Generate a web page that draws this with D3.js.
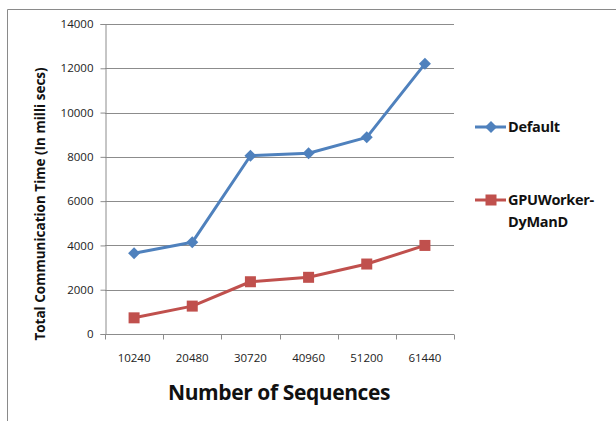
<!DOCTYPE html>
<html>
<head>
<meta charset="utf-8">
<script src="https://cdn.jsdelivr.net/npm/d3@7"></script>
<style>
  html, body { margin: 0; padding: 0; background: #fff; }
  svg { display: block; }
  text { font-family: "Open Sans", "Noto Sans", sans-serif; }
</style>
</head>
<body>
<svg id="chart" width="616" height="421"></svg>
<script>
// Number of sequences processed
const categories = ["10240", "20480", "30720", "40960", "51200", "61440"];
// Total communication time in milliseconds
const defaultTimes = [3650, 4140, 8050, 8160, 8880, 12200];
const dymandTimes = [730, 1260, 2360, 2560, 3160, 4000];
const yTicks = [0, 2000, 4000, 6000, 8000, 10000, 12000, 14000];
const seriesNames = ["Default", "GPUWorker-DyManD"];

const svg = d3.select("#chart");
const margin = { left: 105, right: 162, top: 24, bottom: 87 };
const W = 616, H = 421;
const plotW = W - margin.left - margin.right;
const plotH = H - margin.top - margin.bottom;

const blue = "#4F81BD", red = "#C0504D", grid = "#8c8c8c";

// outer frame
svg.append("path")
  .attr("d", "M7.5,421 V9.5 H616")
  .attr("fill", "none").attr("stroke", "#8a8a8a").attr("stroke-width", 1);

const g = svg.append("g").attr("transform", `translate(${margin.left},${margin.top})`);

const x = d3.scaleBand().domain(categories).range([0, plotW]);
const y = d3.scaleLinear().domain([0, 14000]).range([plotH, 0]);

// horizontal gridlines
g.append("g").selectAll("line").data(yTicks.filter(d => d > 0)).join("line")
  .attr("x1", 0).attr("x2", plotW)
  .attr("y1", d => Math.round(y(d)) + 0.5).attr("y2", d => Math.round(y(d)) + 0.5)
  .attr("stroke", grid).attr("stroke-width", 1);

// y axis
const yAxis = g.append("g")
  .attr("transform", "translate(0.5,0)")
  .call(d3.axisLeft(y).tickValues(yTicks).tickSize(5).tickPadding(7).tickFormat(d3.format("d")));
yAxis.select(".domain").attr("stroke", grid);
yAxis.selectAll(".tick line").attr("stroke", grid);
yAxis.selectAll(".tick text").attr("font-size", 11.5).attr("fill", "#222")
  .style("font-family", "'Open Sans', sans-serif");

// x axis with ticks on the band edges
const xAxis = g.append("g").attr("transform", `translate(0,${Math.round(plotH) + 0.5})`);
xAxis.append("line").attr("x1", 0).attr("x2", plotW).attr("stroke", grid);
const edges = categories.map(c => x(c)).concat([plotW]);
xAxis.selectAll("line.edge").data(edges).join("line").attr("class", "edge")
  .attr("x1", d => Math.round(d) + 0.5).attr("x2", d => Math.round(d) + 0.5)
  .attr("y1", 0).attr("y2", 5).attr("stroke", grid);
xAxis.selectAll("text").data(categories).join("text")
  .attr("x", d => x(d) + x.bandwidth() / 2).attr("y", 27)
  .attr("text-anchor", "middle").attr("font-size", 11.5).attr("fill", "#222")
  .text(d => d);

// axis titles
svg.append("text")
  .attr("transform", "translate(45,204) rotate(-90)")
  .attr("text-anchor", "middle").attr("font-size", 13.5).attr("font-weight", "bold")
  .attr("fill", "#111")
  .text("Total Communication Time (In milli secs)");
svg.append("text")
  .attr("x", 279).attr("y", 400)
  .attr("text-anchor", "middle").attr("font-size", 21).attr("font-weight", "bold")
  .attr("fill", "#111").attr("letter-spacing", -0.4)
  .text("Number of Sequences");

// series lines and markers
const cx = c => x(c) + x.bandwidth() / 2;
const line = d3.line().x((d, i) => cx(categories[i])).y(d => y(d));

g.append("path").datum(defaultTimes).attr("d", line)
  .attr("fill", "none").attr("stroke", blue).attr("stroke-width", 3).attr("stroke-linejoin", "round");
g.append("path").datum(dymandTimes).attr("d", line)
  .attr("fill", "none").attr("stroke", red).attr("stroke-width", 3).attr("stroke-linejoin", "round");

// square diamond marker, 12px across
const diamond = "M0,-6L6,0L0,6L-6,0Z";
g.selectAll("path.dm").data(defaultTimes).join("path").attr("class", "dm")
  .attr("d", diamond)
  .attr("transform", (d, i) => `translate(${cx(categories[i])},${y(d)})`)
  .attr("fill", blue);
g.selectAll("rect.sq").data(dymandTimes).join("rect").attr("class", "sq")
  .attr("x", (d, i) => cx(categories[i]) - 5.5).attr("y", d => y(d) - 5.5)
  .attr("width", 11).attr("height", 11).attr("fill", red);

// legend
const legend = svg.append("g");
const items = [
  { name: seriesNames[0], color: blue, y: 127, lines: ["Default"] },
  { name: seriesNames[1], color: red, y: 200, lines: ["GPUWorker-", "DyManD"] }
];
items.forEach((it, k) => {
  legend.append("line").attr("x1", 475).attr("x2", 506).attr("y1", it.y).attr("y2", it.y)
    .attr("stroke", it.color).attr("stroke-width", 3);
  if (k === 0) {
    legend.append("path").attr("d", diamond).attr("transform", `translate(491,${it.y})`).attr("fill", it.color);
  } else {
    legend.append("rect").attr("x", 485.5).attr("y", it.y - 5.5).attr("width", 11).attr("height", 11).attr("fill", it.color);
  }
  it.lines.forEach((t, j) => {
    legend.append("text").attr("x", 508).attr("y", it.y + 5 + j * 22)
      .attr("font-size", 14.5).attr("font-weight", "bold").attr("fill", "#111")
      .attr("letter-spacing", -0.3)
      .text(t);
  });
});
</script>
</body>
</html>
